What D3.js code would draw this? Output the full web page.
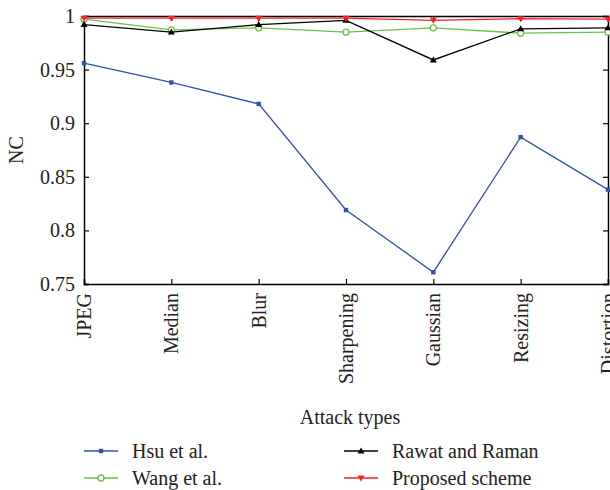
<!DOCTYPE html>
<html>
<head>
<meta charset="utf-8">
<script src="https://cdn.jsdelivr.net/npm/d3@7"></script>
<style>
  body { margin: 0; background: #fff; }
  svg { display: block; font-family: "Liberation Serif", "Times New Roman", serif; }
</style>
</head>
<body>
<svg width="610" height="490"></svg>
<script>
var attacks = ["JPEG", "Median", "Blur", "Sharpening", "Gaussian", "Resizing", "Distortion"];
var hsu = [0.956, 0.938, 0.918, 0.819, 0.761, 0.887, 0.838];
var wang = [0.997, 0.987, 0.989, 0.985, 0.989, 0.984, 0.985];
var rawat = [0.992, 0.985, 0.992, 0.996, 0.959, 0.988, 0.989];
var proposed = [0.998, 0.998, 0.998, 0.998, 0.996, 0.9975, 0.997];
var yTicks = [0.75, 0.8, 0.85, 0.9, 0.95, 1];

var series = [
  { name: "Hsu et al.", values: hsu, color: "#2f52a8", marker: "square" },
  { name: "Wang et al.", values: wang, color: "#6cc04a", marker: "circle" },
  { name: "Rawat and Raman", values: rawat, color: "#000000", marker: "up" },
  { name: "Proposed scheme", values: proposed, color: "#ff1f1f", marker: "down" }
];

// note: "top" is reserved on window, so use plot* names
var plotLeft = 84, plotRight = 608, plotTop = 16, plotBottom = 284;

var svg = d3.select("svg");
var x = d3.scalePoint().domain(attacks).range([plotLeft, plotRight]);
var y = d3.scaleLinear().domain([0.75, 1]).range([plotBottom, plotTop]);

function styleAxis(g) {
  g.select(".domain").attr("stroke", "#000").attr("stroke-width", 1.5);
  g.selectAll(".tick line").attr("stroke", "#000").attr("stroke-width", 1.2);
  g.selectAll("text").attr("fill", "#222").attr("font-family", "Liberation Serif, serif");
}

// axes with inward ticks
svg.append("g")
  .attr("transform", "translate(" + plotLeft + ",0)")
  .call(d3.axisLeft(y).tickValues(yTicks).tickSize(-5).tickPadding(9)
    .tickFormat(function(d) { return String(d); }))
  .call(styleAxis)
  .selectAll("text").attr("font-size", 20);

svg.append("g")
  .attr("transform", "translate(" + plotRight + ",0)")
  .call(d3.axisRight(y).tickValues(yTicks).tickSize(-5).tickFormat(""))
  .call(styleAxis);

svg.append("g")
  .attr("transform", "translate(0," + plotTop + ")")
  .call(d3.axisTop(x).tickSize(-5).tickFormat(""))
  .call(styleAxis);

var xa = svg.append("g")
  .attr("transform", "translate(0," + plotBottom + ")")
  .call(d3.axisBottom(x).tickSize(-5).tickPadding(0))
  .call(styleAxis);

xa.selectAll("text")
  .attr("font-size", 20)
  .attr("transform", "rotate(-90)")
  .attr("x", -9)
  .attr("y", 0)
  .attr("dy", "0.33em")
  .attr("text-anchor", "end");

var line = d3.line()
  .x(function(d, i) { return x(attacks[i]); })
  .y(function(d) { return y(d); });

function drawMarker(g, type, color, cx, cy) {
  if (type === "square") {
    g.append("rect").attr("x", cx - 2.2).attr("y", cy - 2.2)
      .attr("width", 4.4).attr("height", 4.4).attr("fill", color);
  } else if (type === "circle") {
    g.append("circle").attr("cx", cx).attr("cy", cy).attr("r", 3)
      .attr("fill", "#fff").attr("stroke", color).attr("stroke-width", 1.3);
  } else if (type === "up") {
    g.append("path")
      .attr("d", "M" + cx + "," + (cy - 3.5) + "L" + (cx + 3.5) + "," + (cy + 2.5) + "L" + (cx - 3.5) + "," + (cy + 2.5) + "Z")
      .attr("fill", color);
  } else {
    g.append("path")
      .attr("d", "M" + cx + "," + (cy + 3.5) + "L" + (cx + 3.5) + "," + (cy - 2.5) + "L" + (cx - 3.5) + "," + (cy - 2.5) + "Z")
      .attr("fill", color);
  }
}

series.forEach(function(s) {
  var g = svg.append("g");
  g.append("path")
    .datum(s.values)
    .attr("d", line)
    .attr("fill", "none")
    .attr("stroke", s.color)
    .attr("stroke-width", 1.3);
  s.values.forEach(function(v, i) {
    drawMarker(g, s.marker, s.color, x(attacks[i]), y(v));
  });
});

// axis titles
svg.append("text")
  .attr("transform", "translate(23," + ((plotTop + plotBottom) / 2) + ") rotate(-90)")
  .attr("text-anchor", "middle")
  .attr("font-size", 20)
  .attr("fill", "#222")
  .text("NC");

svg.append("text")
  .attr("x", (plotLeft + plotRight) / 2 + 4)
  .attr("y", 424)
  .attr("text-anchor", "middle")
  .attr("font-size", 20)
  .attr("fill", "#222")
  .text("Attack types");

// legend
var legendPos = [[84, 451], [84, 478], [344, 451], [344, 478]];
series.forEach(function(s, i) {
  var lx = legendPos[i][0], ly = legendPos[i][1];
  var g = svg.append("g");
  g.append("line")
    .attr("x1", lx).attr("x2", lx + 34)
    .attr("y1", ly).attr("y2", ly)
    .attr("stroke", s.color).attr("stroke-width", 1.3);
  drawMarker(g, s.marker, s.color, lx + 17, ly);
  g.append("text")
    .attr("x", lx + 48)
    .attr("y", ly)
    .attr("dy", "0.33em")
    .attr("font-size", 20)
    .attr("fill", "#222")
    .text(s.name);
});
</script>
</body>
</html>
